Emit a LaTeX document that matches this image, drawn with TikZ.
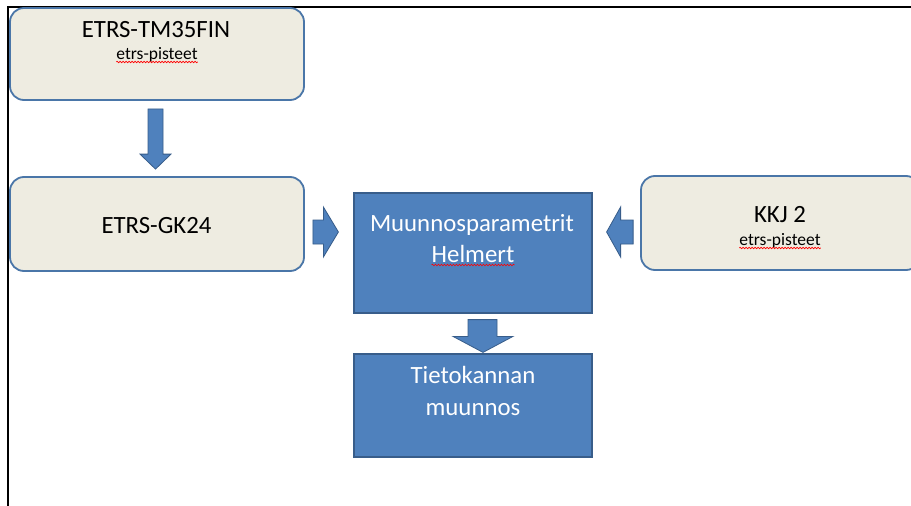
\documentclass[tikz,border=0pt]{standalone}
\usepackage{fontspec}
\setmainfont{Carlito}
\usetikzlibrary{calc,decorations.pathmorphing}
\definecolor{beige}{HTML}{EEECE1}
\definecolor{bedge}{HTML}{4A76A8}
\definecolor{bluefill}{HTML}{4F81BD}
\definecolor{bluedge}{HTML}{385D8A}
\begin{document}
\begin{tikzpicture}[x=1pt,y=-1pt,
 lightbox/.style={draw=bedge, line width=1.8pt, fill=beige, rounded corners=14pt, inner sep=0pt},
 bluebox/.style={draw=bluedge, line width=1.2pt, fill=bluefill, inner sep=0pt},
 barrow/.style={draw=bluedge, line width=0.8pt, fill=bluefill, line join=miter},
 big/.style={font=\fontsize{24.8}{29}\selectfont, anchor=base, inner sep=0pt},
 small/.style={font=\fontsize{17.5}{20}\selectfont, anchor=base, inner sep=0pt},
 spell/.style={draw=red, line width=0.6pt, decorate, decoration={snake, amplitude=0.8pt, segment length=3pt}}
]
\useasboundingbox (0,0) rectangle (911,506);
\fill[white] (0,0) rectangle (911,506);
\clip (0,0) rectangle (911,506);
% frame
\draw[line width=2pt] (8,506) -- (8,7) -- (911,7);
% boxes
\node[lightbox, minimum width=294pt, minimum height=92pt] (tm) at (157,54) {};
\node[lightbox, minimum width=294pt, minimum height=94pt] (gk) at (157,224) {};
\node[bluebox, minimum width=238pt, minimum height=120pt] (mid) at (473,253) {};
\node[bluebox, minimum width=238pt, minimum height=103pt] (bot) at (473,405.5) {};
\node[lightbox, minimum width=279pt, minimum height=94pt] (kkj) at (780.5,223) {};
% texts
\node[big] (t1) at (156,37) {ETRS-TM35FIN};
\node[small] (t1s) at (157,59) {etrs-pisteet};
\node[big] (t2) at (156.5,233) {ETRS-GK24};
\node[big, text=white] (t3) at (472,231) {Muunnosparametrit};
\node[big, text=white] (t3b) at (473,262) {Helmert};
\node[big, text=white] (t4) at (473,383) {Tietokannan};
\node[big, text=white] (t4b) at (473,415) {muunnos};
\node[big] (t5) at (780,222) {KKJ 2};
\node[small] (t5s) at (780,245) {etrs-pisteet};
% spelling underlines
\draw[spell] ($(t1s.base west)+(0,3)$) -- ($(t1s.base east)+(0,3)$);
\draw[spell] ($(t5s.base west)+(0,3)$) -- ($(t5s.base east)+(0,3)$);
\draw[spell] ($(t3b.base west)+(0,3)$) -- ($(t3b.base east)+(0,3)$);
% block arrows
\draw[barrow] ($(tm.south)+(-9,8)$) -- ($(tm.south)+(6,8)$) -- ($(gk.north)+(6,-22)$) -- ($(gk.north)+(14,-22)$) -- ($(gk.north)+(-1.5,-7)$) -- ($(gk.north)+(-17,-22)$) -- ($(gk.north)+(-9,-22)$) -- cycle;
\draw[barrow] ($(gk.east)+(8,-4)$) -- ($(mid.west)+(-30,-33)$) -- ($(mid.west)+(-30,-46)$) -- ($(mid.west)+(-15,-21)$) -- ($(mid.west)+(-30,4)$) -- ($(mid.west)+(-30,-9)$) -- ($(gk.east)+(8,20)$) -- cycle;
\draw[barrow] ($(kkj.west)+(-7,-3)$) -- ($(mid.east)+(28,-33)$) -- ($(mid.east)+(28,-46)$) -- ($(mid.east)+(14,-21)$) -- ($(mid.east)+(28,4)$) -- ($(mid.east)+(28,-9)$) -- ($(kkj.west)+(-7,21)$) -- cycle;
\draw[barrow] ($(mid.south)+(-5,6)$) -- ($(mid.south)+(24,6)$) -- ($(bot.north)+(24,-17)$) -- ($(bot.north)+(40,-17)$) -- ($(bot.north)+(10,-1)$) -- ($(bot.north)+(-20,-17)$) -- ($(bot.north)+(-5,-17)$) -- cycle;
\end{tikzpicture}
\end{document}
